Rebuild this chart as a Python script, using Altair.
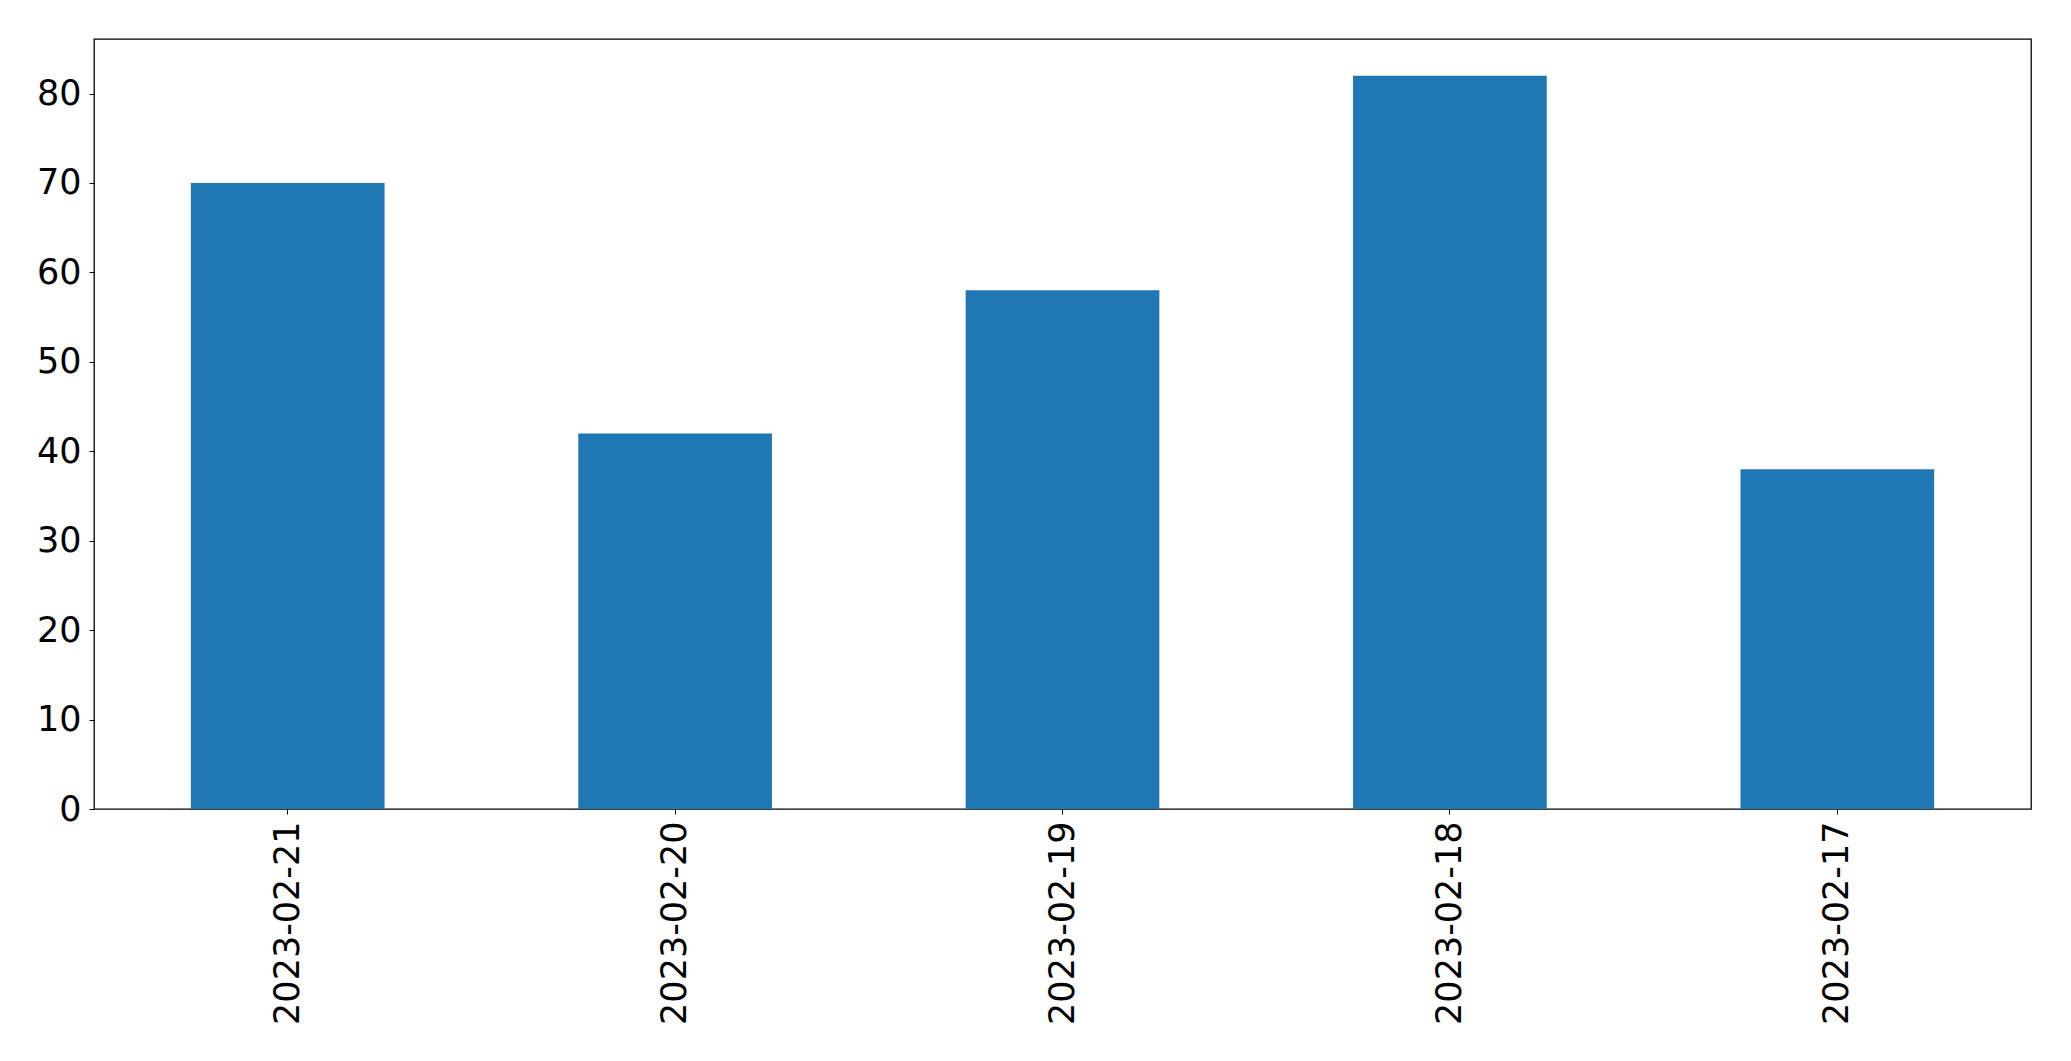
import altair as alt
import pandas as pd

dates = ["2023-02-21", "2023-02-20", "2023-02-19", "2023-02-18", "2023-02-17"]
values = [70, 42, 58, 82, 38]
y_ticks = [0, 10, 20, 30, 40, 50, 60, 70, 80]

df = pd.DataFrame({"date": dates, "value": values})

FONT = "DejaVu Sans"

chart = alt.Chart(df).mark_bar(color="#1f77b4").encode(
    x=alt.X(
        "date:N",
        sort=None,
        title=None,
        scale=alt.Scale(paddingInner=0.5, paddingOuter=0.25),
        axis=alt.Axis(
            labelAngle=-90,
            labelFont=FONT,
            labelFontSize=35,
            labelColor="black",
            labelPadding=7,
            labelLimit=0,
            tickColor="black",
            tickSize=5,
            tickWidth=1,
            domain=False,
            grid=False,
        ),
    ),
    y=alt.Y(
        "value:Q",
        title=None,
        scale=alt.Scale(domain=[0, 86.1], nice=False, zero=True),
        axis=alt.Axis(
            values=y_ticks,
            labelFont=FONT,
            labelFontSize=35,
            labelColor="black",
            labelPadding=8,
            tickColor="black",
            tickSize=5,
            tickWidth=1,
            domain=False,
            grid=False,
        ),
    ),
).properties(
    width=1937,
    height=770,
    autosize=alt.AutoSizeParams(type="none"),
    padding={"left": 86, "top": 31, "right": 30, "bottom": 230},
    background="white",
).configure_view(
    stroke="black",
    strokeWidth=1.3,
)

chart.save("out.html", embed_options={"renderer": "svg", "actions": False})
